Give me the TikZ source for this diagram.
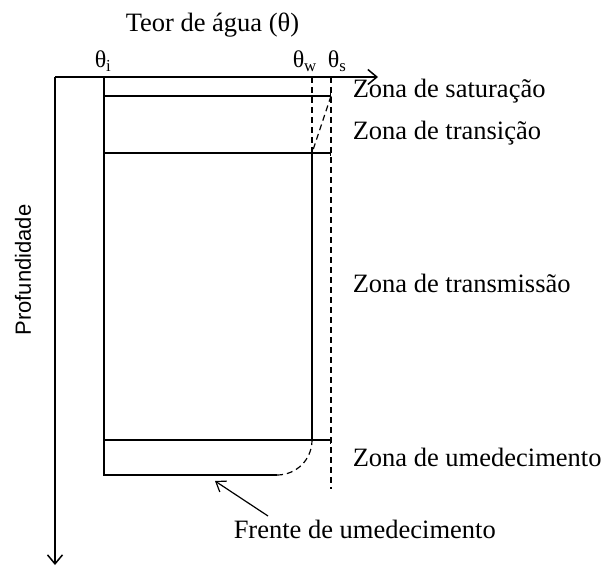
\documentclass[tikz,border=0pt]{standalone}
\usepackage{fontspec}
\setmainfont{Liberation Serif}
\newfontfamily\sansfont{Liberation Sans}
\usepackage{tikz}
\usetikzlibrary{calc}
\usetikzlibrary{arrows.meta}

\begin{document}
\begin{tikzpicture}[x=1pt,y=-1pt,
  line width=1.5pt,
  zone/.style={anchor=base west,inner sep=0pt,font=\fontsize{26.5}{30}\selectfont},
  thetalab/.style={anchor=base west,inner sep=0pt,font=\fontsize{24}{28}\selectfont},
  front/.style={line width=1.2pt,dash pattern=on 6pt off 4pt},
  axisarrow/.style={-{Straight Barb[length=9pt,width=15pt,line width=1.5pt]}},
  tick/.style={-{Bar[width=7pt]}}]
  \useasboundingbox (0,0) rectangle (605,567);
  % axes
  \coordinate (O) at (55,77);
  \coordinate (xend) at (378,77);
  \coordinate (yend) at (55,565);
  \draw[axisarrow] (O) -- (xend);
  \draw[axisarrow] (O) -- (yend);
  \coordinate (ti) at (104,77);
  \coordinate (tw) at (312,77);
  \coordinate (ts) at (331,77);
  \coordinate (sat l) at (104,96);
  \coordinate (sat r) at (331,96);
  \coordinate (tr l) at (104,153);
  \coordinate (tr w) at (312,153);
  \coordinate (tr r) at (331,153);
  \coordinate (wet l) at (104,440);
  \coordinate (wet w) at (312,440);
  \coordinate (wet r) at (331,440);
  \coordinate (bot l) at (104,475);
  \coordinate (bot c) at (277,475);
  \coordinate (ts bot) at (331,489);
  % profile
  \draw (bot c) -- (bot l) -- (ti);
  \draw[tick] (sat l) -- (sat r);
  \draw[tick] (tr l) -- (tr r);
  \draw[tick] (wet l) -- (wet r);
  \draw (tr w) -- (wet w);
  \draw[front] (tw) -- (tr w);
  \draw[front] (ts) -- (ts bot);
  \draw[front] (sat r) -- (tr w);
  \draw[front] (bot c) .. controls (296,475) and (312,460) .. (wet w);
  % labels
  \node[zone] (teor) at (125,32) {Teor de água (θ)};
  \node[thetalab] (thi) at (94,68) {θ\textsubscript{i}};
  \node[thetalab] (thw) at (292,68) {θ\textsubscript{w}};
  \node[thetalab] (ths) at (327,68) {θ\textsubscript{s}};
  \node[zone] (zsat) at (352,98) {Zona de saturação};
  \node[zone] (ztr) at (352,140) {Zona de transição};
  \node[zone] (ztm) at (352,292) {Zona de transmissão};
  \node[zone] (zum) at (352,466) {Zona de umedecimento};
  \node[zone] (frente) at (233,538) {Frente de umedecimento};
  \node[rotate=90,inner sep=0pt,font=\sansfont\fontsize{22}{24}\selectfont] (prof) at (23,270) {Profundidade};
  \coordinate (fstart) at (268,516);
  \coordinate (ftip) at (215,481);
  \draw[line width=1.2pt,-{Straight Barb[length=9pt,width=13pt,line width=1.2pt]}] (fstart) -- (ftip);
\end{tikzpicture}
\end{document}
